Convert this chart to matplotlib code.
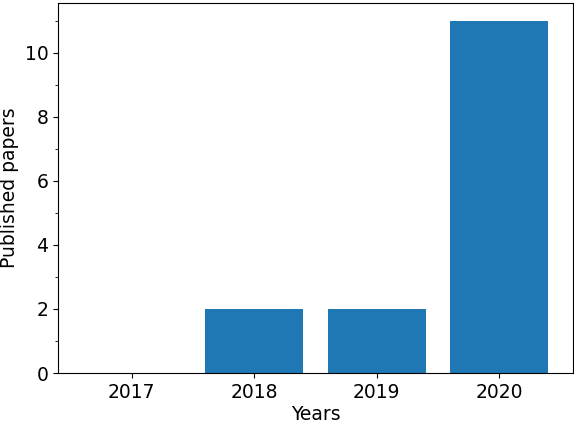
import matplotlib.pyplot as plt
from matplotlib.ticker import MultipleLocator

years = ["2017", "2018", "2019", "2020"]
papers = [0, 2, 2, 11]

plt.rcParams['font.size'] = 13.5
fig = plt.figure(figsize=(5.74, 4.22), dpi=100)
ax = fig.add_axes([0.101, 0.116, 0.897, 0.877])
ax.bar(range(len(years)), papers, width=0.8, color="#1f77b4")
ax.set_xticks(range(len(years)))
ax.set_xticklabels(years)
ax.set_xlim(-0.6, 3.6)
ax.set_ylim(0, 11.55)
ax.yaxis.set_major_locator(MultipleLocator(2))
ax.yaxis.set_minor_locator(MultipleLocator(1))
ax.set_xlabel("Years", labelpad=2)
ax.set_ylabel("Published papers")
fig.savefig("out.png", dpi=100)
